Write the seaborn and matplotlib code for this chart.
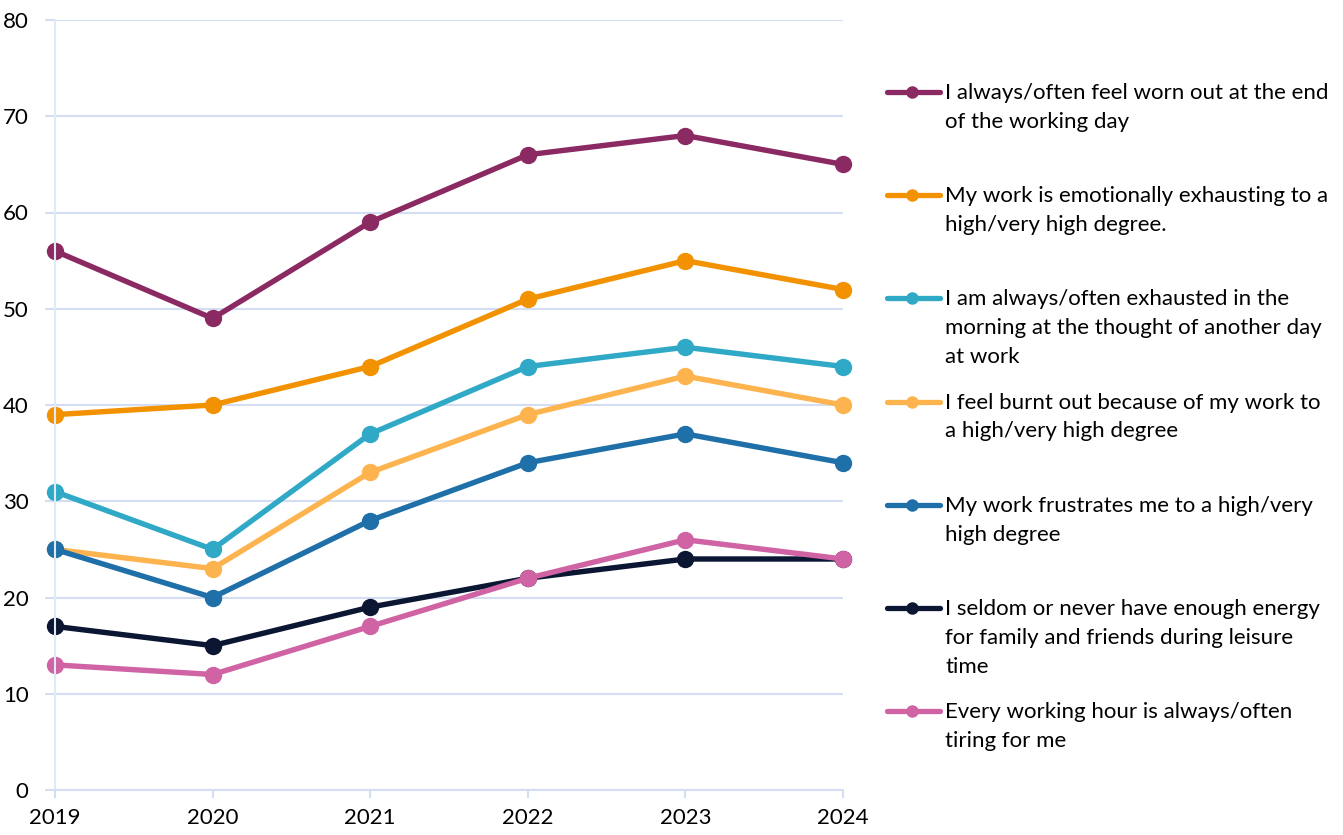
import matplotlib
matplotlib.use("Agg")
import matplotlib.pyplot as plt
from matplotlib.lines import Line2D
import seaborn as sns
import pandas as pd

years = [2019, 2020, 2021, 2022, 2023, 2024]

labels = [
    "I always/often feel worn out at the end\nof the working day",
    "My work is emotionally exhausting to a\nhigh/very high degree.",
    "I am always/often exhausted in the\nmorning at the thought of another day\nat work",
    "I feel burnt out because of my work to\na high/very high degree",
    "My work frustrates me to a high/very\nhigh degree",
    "I seldom or never have enough energy\nfor family and friends during leisure\ntime",
    "Every working hour is always/often\ntiring for me",
]

worn_out = [56, 49, 59, 66, 68, 65]
emotionally_exhausting = [39, 40, 44, 51, 55, 52]
morning_exhausted = [31, 25, 37, 44, 46, 44]
burnt_out = [25, 23, 33, 39, 43, 40]
frustrates = [25, 20, 28, 34, 37, 34]
low_energy = [17, 15, 19, 22, 24, 24]
every_hour_tiring = [13, 12, 17, 22, 26, 24]

colors = ["#8B2A62", "#F39200", "#30A9C7", "#FDB44E", "#1F6FA8", "#0B1633", "#CF63A3"]

series = [worn_out, emotionally_exhausting, morning_exhausted, burnt_out,
          frustrates, low_energy, every_hour_tiring]

rows = []
for lab, vals in zip(labels, series):
    for y, v in zip(years, vals):
        rows.append({"year": y, "value": v, "series": lab})
df = pd.DataFrame(rows)

sns.set_theme(style="white")
plt.rcParams["font.family"] = ["Lato", "DejaVu Sans"]

W, H = 1343, 835
fig = plt.figure(figsize=(W / 100, H / 100), dpi=100)
ax = fig.add_axes([55 / W, 1 - 790 / H, (843 - 55) / W, (790 - 20) / H])

grid_c = "#D3DEF5"
ax.set_axisbelow(True)
ax.yaxis.grid(True, color=grid_c, linewidth=1.5)

sns.lineplot(data=df, x="year", y="value", hue="series", hue_order=labels,
             palette=colors, marker="o", markersize=12.5, markeredgewidth=0,
             linewidth=3.9, legend=False, ax=ax, clip_on=False)

ax.set_xlim(2019, 2024)
ax.set_ylim(0, 80)
ax.set_xticks(years)
ax.set_xticklabels([str(y) for y in years])
ax.set_yticks(range(0, 81, 10))
ax.set_xlabel("")
ax.set_ylabel("")

for s in ["top", "right"]:
    ax.spines[s].set_visible(False)
ax.spines["left"].set_color("#DDEBF7")
ax.spines["left"].set_linewidth(1.5)
ax.spines["bottom"].set_color(grid_c)
ax.spines["bottom"].set_linewidth(1.5)

ax.tick_params(axis="x", length=6, width=1.5, color=grid_c, labelsize=16,
               pad=7, labelcolor="black", bottom=True)
ax.tick_params(axis="y", length=7, width=1.5, color=grid_c, labelsize=16,
               pad=12, labelcolor="black", left=True)

# Legend drawn as a column of evenly spaced entries
slot0 = 92
slot_step = 103.2
for i, (lab, col) in enumerate(zip(labels, colors)):
    yc = 1 - (slot0 + i * slot_step) / H
    fig.add_artist(Line2D([887 / W, 940 / W], [yc, yc], color=col, linewidth=3.8,
                          solid_capstyle="round", transform=fig.transFigure))
    fig.add_artist(Line2D([912 / W], [yc], color=col, marker="o", markersize=9,
                          markeredgewidth=0, transform=fig.transFigure))
    fig.text(945 / W, yc + 9 / H, lab, ha="left", va="top", fontsize=16,
             color="black", linespacing=1.55)

fig.savefig("out.png", dpi=100)
